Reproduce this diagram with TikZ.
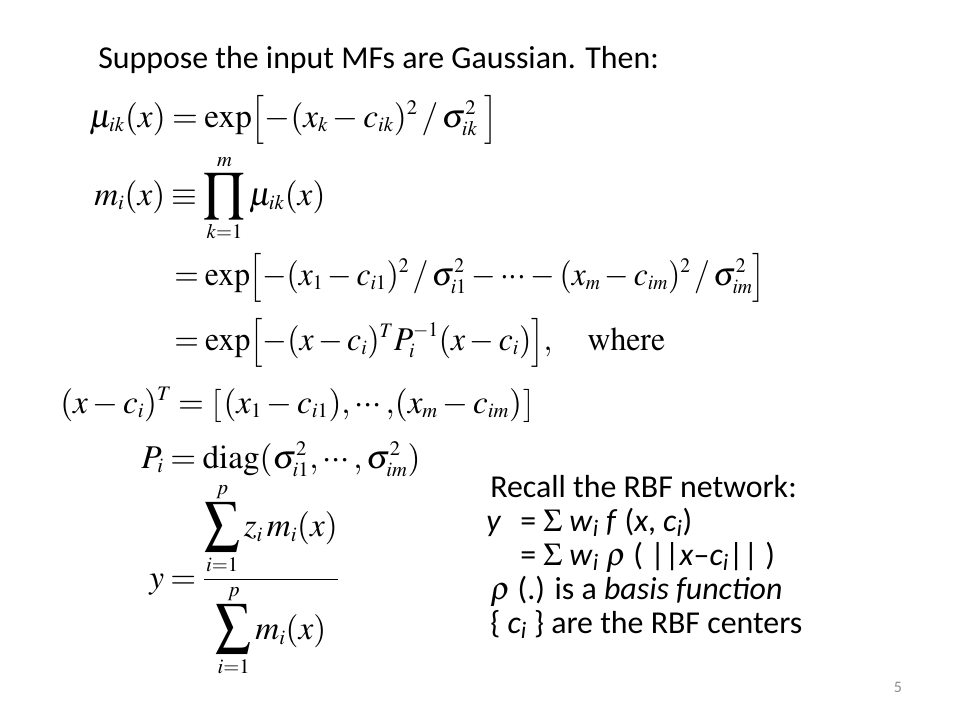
\documentclass[tikz,border=0pt]{standalone}
\usepackage{amsmath}
\usepackage{mathptmx}
\usepackage[no-math]{fontspec}
\setmainfont{Carlito}
\usetikzlibrary{positioning}

\DeclareMathSizes{25}{25}{15.5}{11.5}
\definecolor{pagegray}{HTML}{8C8C8C}
\newcommand{\eqsize}{\fontsize{25}{30}\selectfont\medmuskip=2.5mu\thickmuskip=3.5mu}
% brackets a little smaller than \Big at this size
\newcommand{\Lbrk}{\mathopen{\hbox{\fontsize{20.5}{24}\selectfont$\Bigl[$}}}
\newcommand{\Rbrk}{\mathclose{\hbox{\fontsize{20.5}{24}\selectfont$\Bigr]$}}}
\newcommand{\lbrk}{\mathopen{\hbox{\fontsize{20.8}{24}\selectfont$\left[\vrule height 14pt depth 7pt width 0pt\right.$}}}
\newcommand{\rbrk}{\mathclose{\hbox{\fontsize{20.8}{24}\selectfont$\left.\vrule height 14pt depth 7pt width 0pt\right]$}}}
\newcommand{\tdots}{\mathinner{{\cdotp}{\cdotp}{\cdotp}}}
\newcommand{\bigsum}{\mathop{\scalebox{1.05}[1.2]{$\displaystyle\sum$}}\limits}
\newcommand{\bigprod}{\mathop{\scalebox{1.05}[1.12]{$\displaystyle\prod$}}\limits}

\begin{document}
\begin{tikzpicture}[
		x=0.7528pt, y=-0.7528pt,
		e/.style={anchor=base west, inner sep=0pt, font=\eqsize},
		t/.style={anchor=base west, inner sep=0pt, font=\fontsize{24}{29}\selectfont},
	]
		\useasboundingbox[fill=white] (0,0) rectangle (960,720);

		\node[t] (Head) at (98,68) {Suppose the input MFs are Gaussian. Then:};

		% membership functions
		\node[e] (MuIk) at (89,127) {$\mu_{ik}(x) = \exp\Lbrk {-}(x_k - c_{ik})^2 \,/\, \sigma_{ik}^2\; \Rbrk$};
		\node[e] (Mi) at (94,205) {$\displaystyle m_i(x) \equiv \bigprod_{k=1}^{m} \mu_{ik}(x)$};
		\node[e] (ExpA) at (174,285) {\scalebox{0.95}[1]{$= \exp\Lbrk {-}(x_1 - c_{i1})^2 \,/\, \sigma_{i1}^2 - \tdots - (x_m - c_{im})^2 \,/\, \sigma_{im}^2 \Rbrk$}};
		\node[e] (ExpB) at (174,350) {\scalebox{0.955}[1]{$= \exp\Lbrk {-}(x - c_i)^T P_i^{-1}(x - c_i)\Rbrk, \quad \mathrm{where}$}};
		\node[e] (Xc) at (60,413) {$(x - c_i)^T = \lbrk (x_1 - c_{i1}){,}\tdots{,}(x_m - c_{im})\rbrk$};
		\node[e] (Pi) at (141,468) {$P_i = \mathrm{diag}(\sigma_{i1}^2, \tdots, \sigma_{im}^2)$};
		\node[e] (Y) at (149,588) {$y = \dfrac{\displaystyle\bigsum_{i=1}^{p} z_i\, m_i(x)}{\displaystyle\bigsum_{i=1}^{p} m_i(x)}$};

		% RBF network text
		\node[t] (Rbf1) at (490,497) {Recall the RBF network:};
		\node[t] (Rbf2) at (486,531) {\textit{y}};
		\node[t] (Rbf2b) at (520,531) {= $\Sigma$ \textit{w}\textsubscript{\textit{i}} \textit{f} (\textit{x}, \textit{c}\textsubscript{\textit{i}})};
		\node[t] (Rbf3) at (520,565) {= $\Sigma$ \textit{w}\textsubscript{\textit{i}} $\rho$ ( ||\textit{x}–\textit{c}\textsubscript{\textit{i}}|| )};
		\node[t] (Rbf4) at (490,599) {$\rho$ (.) is a \textit{basis function}};
		\node[t] (Rbf5) at (490,633) {\{ \textit{c}\textsubscript{\textit{i}} \} are the RBF centers};

		\node[anchor=base, inner sep=0pt, font=\fontsize{12}{14}\selectfont, text=pagegray] (Page) at (898,692) {5};
	\end{tikzpicture}
\end{document}
